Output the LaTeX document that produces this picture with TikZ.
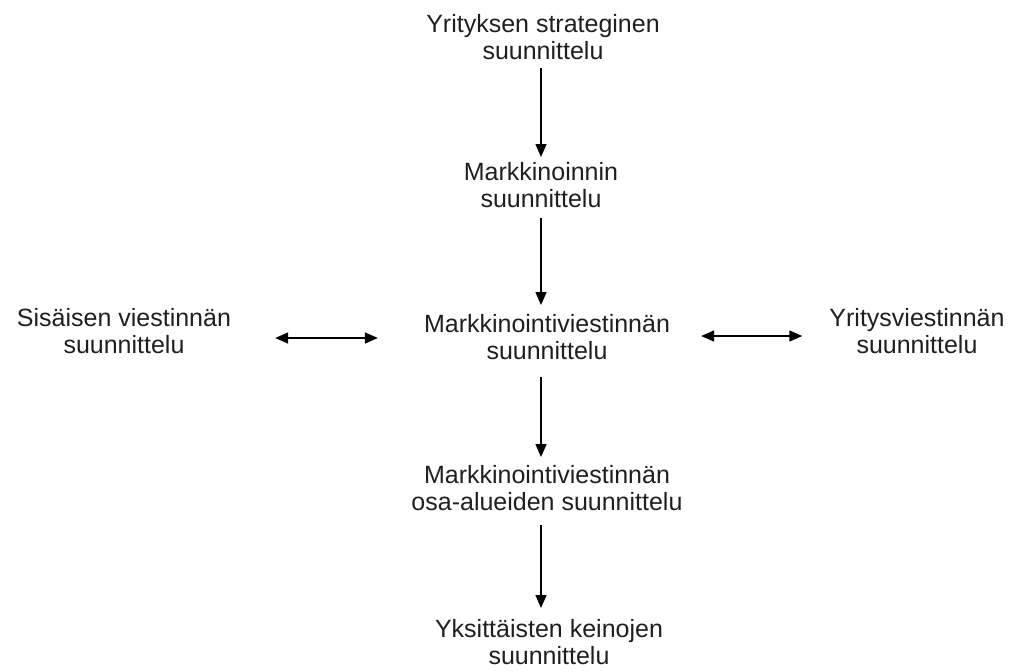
\documentclass[tikz,border=0pt]{standalone}
\usepackage{fontspec}
\setmainfont{Liberation Sans}
\usetikzlibrary{arrows.meta}
\begin{document}
\begin{tikzpicture}[x=1pt,y=1pt,
  lbl/.style={align=center,inner sep=0pt,anchor=north,font=\fontsize{25}{27}\selectfont,text=black!88},
  conn/.style={line width=1.5pt,-{Triangle[width=11pt,length=13pt]}},
  dconn/.style={line width=1.5pt,{Triangle[width=11pt,length=13pt]}-{Triangle[width=11pt,length=13pt]}}]
\useasboundingbox (0,0) rectangle (1013,-672);
\node[lbl] (top) at (543,-14) {Yrityksen strateginen\\suunnittelu};
\node[lbl] (mark) at (541,-162) {Markkinoinnin\\suunnittelu};
\node[lbl] (mid) at (547,-314) {Markkinointiviestinnän\\suunnittelu};
\node[lbl] (left) at (124,-308) {Sisäisen viestinnän\\suunnittelu};
\node[lbl] (right) at (917,-308) {Yritysviestinnän\\suunnittelu};
\node[lbl] (osa) at (547,-465) {Markkinointiviestinnän\\osa-alueiden suunnittelu};
\node[lbl] (yks) at (549,-619) {Yksittäisten keinojen\\suunnittelu};
\coordinate (ax) at (541,0);
\coordinate (hl) at (0,-338);
\coordinate (hr) at (0,-336);
\draw[conn,shorten <=8pt,shorten >=5pt] (top.south -| ax) -- (mark.north -| ax);
\draw[conn,shorten <=10pt,shorten >=9pt] (mark.south -| ax) -- (mid.north -| ax);
\draw[conn,shorten <=17pt,shorten >=8pt] (mid.south -| ax) -- (osa.north -| ax);
\draw[conn,shorten <=14pt,shorten >=11pt] (osa.south -| ax) -- (yks.north -| ax);
\draw[dconn,shorten <=44pt,shorten >=46pt] (left.east |- hl) -- (mid.west |- hl);
\draw[dconn,shorten <=31pt,shorten >=27pt] (mid.east |- hr) -- (right.west |- hr);
\end{tikzpicture}
\end{document}
